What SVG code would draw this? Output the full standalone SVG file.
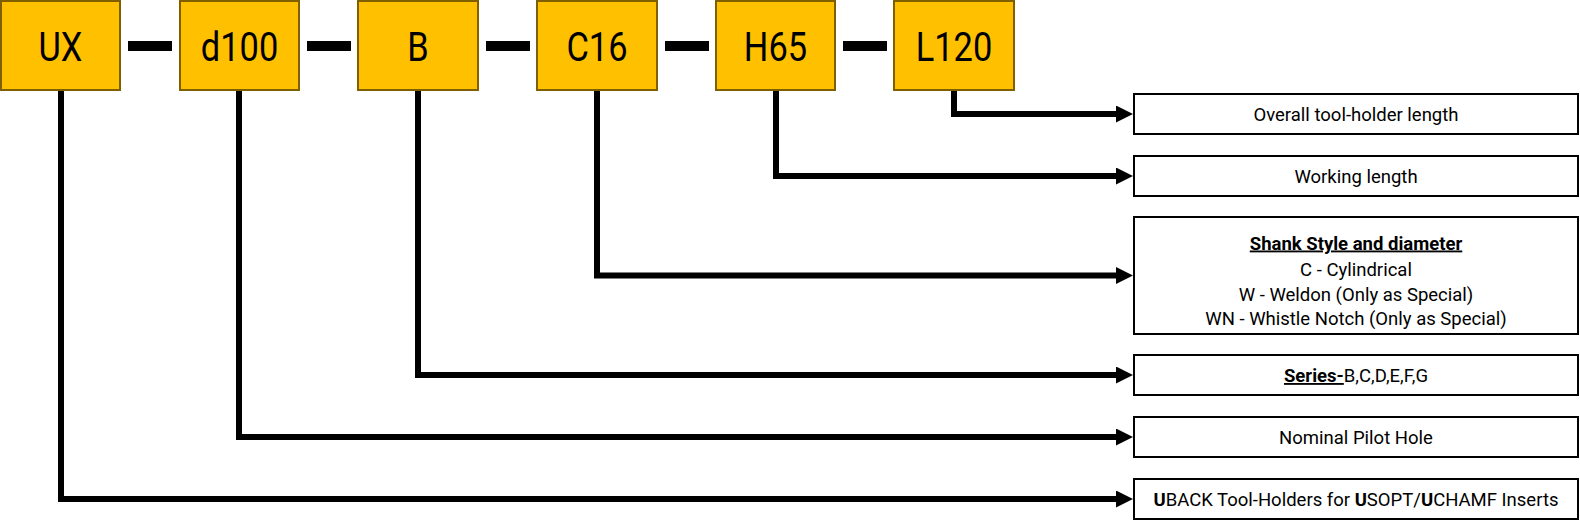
<svg xmlns="http://www.w3.org/2000/svg" width="1580" height="525" viewBox="0 0 1580 525">
<style>
.code rect{fill:#FFC000;stroke:#7F6000;stroke-width:2}
.code text{font-family:Roboto,"Liberation Sans",sans-serif;font-size:41px;fill:#000;text-anchor:middle}
.desc rect{fill:#fff;stroke:#000;stroke-width:2}
.desc text{font-family:Roboto,"Liberation Sans",sans-serif;font-size:18.5px;fill:#000;text-anchor:middle}
.b{font-weight:bold}
.u{text-decoration:underline}
.dash{fill:#000}
.conn path{fill:none;stroke:#000;stroke-width:6;stroke-linejoin:miter;stroke-linecap:butt;marker-end:url(#ah)}
</style>
<defs>
<marker id="ah" viewBox="0 0 17 17" markerWidth="17" markerHeight="17" refX="1" refY="8.5" markerUnits="userSpaceOnUse" orient="auto">
<path d="M0 0 L17 8.5 L0 17 z" fill="#000"/>
</marker>
</defs>
<g id="dashes">
<rect class="dash" x="128" y="41" width="44" height="10"/>
<rect class="dash" x="307" y="41" width="44" height="10"/>
<rect class="dash" x="486" y="41" width="44" height="10"/>
<rect class="dash" x="665" y="41" width="44" height="10"/>
<rect class="dash" x="843" y="41" width="44" height="10"/>
</g>
<g id="node-UX" class="code"><rect x="1" y="1" width="119" height="89"/><text transform="translate(60.5 61) scale(0.84 1)">UX</text></g>
<g id="node-d100" class="code"><rect x="180" y="1" width="119" height="89"/><text transform="translate(239.5 61) scale(0.84 1)">d100</text></g>
<g id="node-B" class="code"><rect x="358" y="1" width="120" height="89"/><text transform="translate(418 61) scale(0.84 1)">B</text></g>
<g id="node-C16" class="code"><rect x="537" y="1" width="120" height="89"/><text transform="translate(597 61) scale(0.84 1)">C16</text></g>
<g id="node-H65" class="code"><rect x="716" y="1" width="119" height="89"/><text transform="translate(775.5 61) scale(0.84 1)">H65</text></g>
<g id="node-L120" class="code"><rect x="894" y="1" width="120" height="89"/><text transform="translate(954 61) scale(0.84 1)">L120</text></g>
<g id="connectors" class="conn">
<path d="M954 91 V114 H1117"/>
<path d="M776 91 V176 H1117"/>
<path d="M597 91 V275.5 H1117"/>
<path d="M418 91 V375 H1117"/>
<path d="M239 91 V437 H1117"/>
<path d="M61 91 V499 H1117"/>
</g>
<g id="desc-length" class="desc"><rect x="1134" y="94" width="444" height="40"/><text x="1356" y="120.5">Overall tool-holder length</text></g>
<g id="desc-working" class="desc"><rect x="1134" y="156" width="444" height="40"/><text x="1356" y="182.5">Working length</text></g>
<g id="desc-shank" class="desc"><rect x="1134" y="217" width="444" height="117"/>
<text x="1356" y="249.5" class="b u">Shank Style and diameter</text>
<text x="1356" y="276">C - Cylindrical</text>
<text x="1356" y="300.5">W - Weldon (Only as Special)</text>
<text x="1356" y="325">WN - Whistle Notch (Only as Special)</text>
</g>
<g id="desc-series" class="desc"><rect x="1134" y="355" width="444" height="40"/><text x="1356" y="382"><tspan class="b u">Series-</tspan>B,C,D,E,F,G</text></g>
<g id="desc-pilot" class="desc"><rect x="1134" y="417" width="444" height="40"/><text x="1356" y="443.5">Nominal Pilot Hole</text></g>
<g id="desc-uback" class="desc"><rect x="1134" y="479" width="444" height="40"/><text x="1356" y="505.5"><tspan class="b">U</tspan>BACK Tool-Holders for <tspan class="b">U</tspan>SOPT/<tspan class="b">U</tspan>CHAMF Inserts</text></g>
</svg>
